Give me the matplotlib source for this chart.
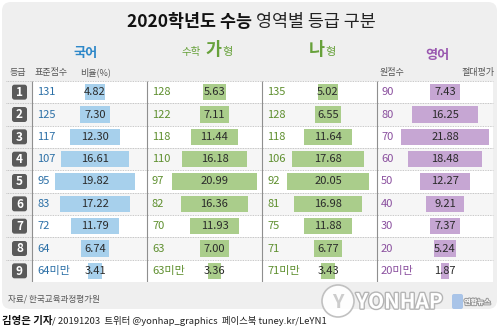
import matplotlib

matplotlib.use("Agg")

import matplotlib.pyplot as plt
import matplotlib.patheffects as path_effects
import numpy as np
from matplotlib.patches import Circle, FancyBboxPatch

plt.rcParams["font.family"] = ["Noto Sans CJK KR", "DejaVu Sans"]

grades = ["1", "2", "3", "4", "5", "6", "7", "8", "9"]

korean_scores = ["131", "125", "117", "107", "95", "83", "72", "64", "64미만"]
korean_ratio = [4.82, 7.30, 12.30, 16.61, 19.82, 17.22, 11.79, 6.74, 3.41]

math_a_scores = ["128", "122", "118", "110", "97", "82", "70", "63", "63미만"]
math_a_ratio = [5.63, 7.11, 11.44, 16.18, 20.99, 16.36, 11.93, 7.00, 3.36]

math_b_scores = ["135", "128", "118", "106", "92", "81", "75", "71", "71미만"]
math_b_ratio = [5.02, 6.55, 11.64, 17.68, 20.05, 16.98, 11.88, 6.77, 3.43]

english_scores = ["90", "80", "70", "60", "50", "40", "30", "20", "20미만"]
english_ratio = [7.43, 16.25, 21.88, 18.48, 12.27, 9.21, 7.37, 5.24, 1.87]

WIDTH, HEIGHT = 500, 330
TABLE_TOP, TABLE_BOTTOM = 81, 282
PX_PER_PERCENT = 4.05

BLUE_BAR = "#a7d0ec"
GREEN_BAR = "#aacd8b"
PURPLE_BAR = "#c6a6d3"

columns = [
    # scores, ratios, score x, bar centre, bar colour, score colour
    (korean_scores, korean_ratio, 37, 95, BLUE_BAR, "#2b6fa6"),
    (math_a_scores, math_a_ratio, 152, 214.5, GREEN_BAR, "#5e8f2e"),
    (math_b_scores, math_b_ratio, 267, 328, GREEN_BAR, "#5e8f2e"),
    (english_scores, english_ratio, 381, 445, PURPLE_BAR, "#8a4f9e"),
]

figure = plt.figure(figsize=(WIDTH / 100, HEIGHT / 100), dpi=100)

# page coordinates in pixels
page = figure.add_axes([0, 0, 1, 1])
page.set_xlim(0, WIDTH)
page.set_ylim(HEIGHT, 0)
page.axis("off")

page.add_patch(
    FancyBboxPatch(
        (2, 2),
        495,
        307,
        boxstyle="round,pad=0,rounding_size=9",
        facecolor="#efefef",
        edgecolor="none",
    )
)

# title
page.text(252, 22, "2020학년도 수능", ha="right", va="center",
          fontsize=12.5, fontweight="bold", color="#111111")
page.text(256, 22, "영역별 등급 구분", ha="left", va="center",
          fontsize=12.5, color="#222222")

# subject headers
green_head = "#67a13a"
page.text(86, 57, "국어", ha="center", va="baseline", fontsize=9.5,
          fontweight="bold", color="#2e88c9")
page.text(182, 55, "수학", ha="left", va="baseline", fontsize=7.5,
          color=green_head)
page.text(205, 55, "가", ha="left", va="baseline", fontsize=12.5,
          fontweight="bold", color=green_head)
page.text(222, 55, "형", ha="left", va="baseline", fontsize=8,
          color=green_head)
page.text(309, 55, "나", ha="left", va="baseline", fontsize=12.5,
          fontweight="bold", color=green_head)
page.text(325, 55, "형", ha="left", va="baseline", fontsize=8,
          color=green_head)
page.text(437, 59, "영어", ha="center", va="baseline", fontsize=9.5,
          fontweight="bold", color="#9a58b0")

# column labels
label_style = dict(va="baseline", fontsize=6.5, color="#555555")
page.text(10, 75, "등급", ha="left", **label_style)
page.text(35, 75, "표준점수", ha="left", **label_style)
page.text(80, 75, "비율(%)", ha="left", **label_style)
page.text(380, 75, "원점수", ha="left", **label_style)
page.text(494, 75, "절대평가", ha="right", **label_style)

# footer
page.text(8, 299, "자료/ 한국교육과정평가원", ha="left", va="center",
          fontsize=6.2, color="#555555", style="italic")
page.text(2, 321, "김영은 기자", ha="left", va="center", fontsize=7.5,
          fontweight="bold", color="#111111")
page.text(52, 321, "/ 20191203  트위터 @yonhap_graphics  페이스북 tuney.kr/LeYN1",
          ha="left", va="center", fontsize=6.8, color="#222222")

# watermark
page.add_patch(Circle((338, 301), 16, facecolor="white", edgecolor="#bbbbbb",
                      linewidth=1.2, alpha=0.9))
page.text(338, 302, "Y", ha="center", va="center", fontsize=14,
          fontweight="bold", style="italic", color="#cccccc")
watermark = page.text(356, 302, "YONHAP", ha="left", va="center", fontsize=15,
                      fontweight="bold", style="italic", color="white")
watermark.set_path_effects(
    [path_effects.withStroke(linewidth=2, foreground="#b5b5b5")]
)
page.add_patch(FancyBboxPatch((452, 294), 11, 15,
                              boxstyle="round,pad=0,rounding_size=2",
                              facecolor="#a9c4e8", edgecolor="none"))
page.text(464, 302, "연합뉴스", ha="left", va="center", fontsize=5.2,
          fontweight="bold", color="white",
          path_effects=[path_effects.withStroke(linewidth=1.5,
                                                foreground="#9a9a9a")])

# table: x in pixels, y in row units
table = figure.add_axes(
    [0, 1 - TABLE_BOTTOM / HEIGHT, 1, (TABLE_BOTTOM - TABLE_TOP) / HEIGHT]
)
table.set_xlim(0, WIDTH)
table.set_ylim(len(grades) - 0.5, -0.5)
table.axis("off")
table.patch.set_alpha(0)

rows = np.arange(len(grades))

for row in rows:
    table.axhspan(
        row - 0.5,
        row + 0.5,
        xmin=32 / WIDTH,
        xmax=493 / WIDTH,
        facecolor="white" if row % 2 == 0 else "#f6f6f6",
        edgecolor="none",
        zorder=0,
    )

table.hlines(
    np.arange(len(grades) + 1) - 0.5,
    6,
    493,
    colors="#b5b5b5",
    linestyles=(0, (1, 1)),
    linewidth=0.6,
    zorder=1,
)

table.vlines(
    [32, 147, 262, 377],
    -0.5,
    len(grades) - 0.5,
    colors="#8f8f8f",
    linewidth=0.8,
    zorder=2,
)

row_unit = (TABLE_BOTTOM - TABLE_TOP) / len(grades)

for row, grade in zip(rows, grades):
    table.add_patch(
        FancyBboxPatch(
            (12, row - 7.5 / row_unit),
            15,
            15 / row_unit,
            boxstyle="round,pad=0,rounding_size=2.5",
            mutation_aspect=1 / row_unit,
            facecolor="#5a5a5a",
            edgecolor="none",
            zorder=3,
        )
    )
    table.text(19.5, row + 0.02, grade, ha="center", va="center",
               fontsize=8.5, fontweight="bold", color="white", zorder=4)

for scores, ratios, score_x, centre, bar_colour, score_colour in columns:
    widths = np.array(ratios) * PX_PER_PERCENT

    table.barh(
        rows,
        widths,
        left=centre - widths / 2,
        height=0.72,
        color=bar_colour,
        edgecolor="none",
        zorder=3,
    )

    for row, score, ratio in zip(rows, scores, ratios):
        table.text(score_x, row, score, ha="left", va="center",
                   fontsize=8, color=score_colour, zorder=4)
        table.text(centre, row, f"{ratio:.2f}", ha="center", va="center",
                   fontsize=8, color="#2a2a2a", zorder=4)

figure.savefig("out.png", dpi=100)
plt.close(figure)
